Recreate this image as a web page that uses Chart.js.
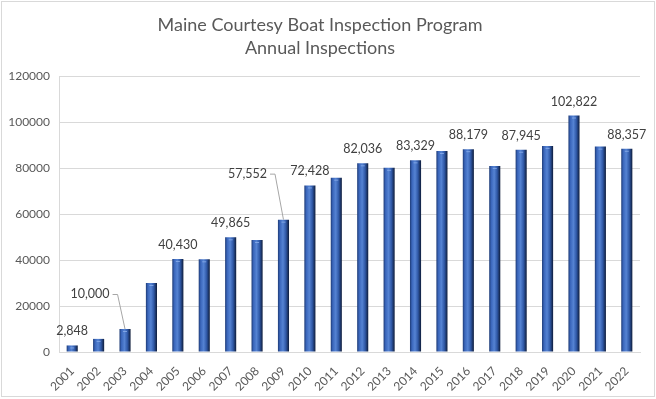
<!DOCTYPE html>
<html>
<head>
<meta charset="utf-8">
<script src="https://cdn.jsdelivr.net/npm/chart.js@4.4.1/dist/chart.umd.min.js"></script>
<style>
  html, body { margin: 0; padding: 0; background: #fff; }
  #wrap { width: 656px; height: 399px; position: relative; }
</style>
</head>
<body>
<div id="wrap"><canvas id="boatChart"></canvas></div>
<script>
// chart data
const years = ['2001', '2002', '2003', '2004', '2005', '2006', '2007', '2008', '2009', '2010', '2011',
               '2012', '2013', '2014', '2015', '2016', '2017', '2018', '2019', '2020', '2021', '2022'];
const inspections = [2848, 5700, 10000, 30000, 40430, 40300, 49865, 48700, 57552, 72428, 75800,
                     82036, 80100, 83329, 87400, 88179, 80900, 87945, 89600, 102822, 89300, 88357];
// which bars carry a value label (null = no label)
const shownLabels = ['2,848', null, '10,000', null, '40,430', null, '49,865', null, '57,552', '72,428', null,
                     '82,036', null, '83,329', null, '88,179', null, '87,945', null, '102,822', null, '88,357'];
const yTicks = [0, 20000, 40000, 60000, 80000, 100000, 120000];

const FONT = 'Lato, "Open Sans", sans-serif';
const GREY = '#595959';
const BAR_PCT = 0.42;

// horizontal shading so each bar looks like a rounded column
function barShade(ctx) {
    const chart = ctx.chart;
    const area = chart.chartArea;
    if (!area || ctx.dataIndex === undefined) return '#3e6bbf';
    const x = chart.scales.x.getPixelForValue(ctx.dataIndex);
    const w = (area.right - area.left) / years.length * BAR_PCT;
    const g = chart.ctx.createLinearGradient(x - w / 2, 0, x + w / 2, 0);
    g.addColorStop(0, '#1d3a75');
    g.addColorStop(0.18, '#3a66bb');
    g.addColorStop(0.45, '#5583d3');
    g.addColorStop(0.72, '#2f58a6');
    g.addColorStop(1, '#0e1c3a');
    return g;
}

// value labels, two of them pushed off to the side with a leader line
const calloutShift = { 2: [-35, -35], 8: [-36, -46] };
const valueLabels = {
    id: 'valueLabels',
    afterDatasetsDraw(chart) {
        const c = chart.ctx;
        const meta = chart.getDatasetMeta(0);
        c.save();
        // small highlight at the top of each bar
        meta.data.forEach(function (bar) {
            c.fillStyle = 'rgba(140,175,235,0.8)';
            c.fillRect(bar.x - 2, bar.y + 2, 4, 1);
        });
        c.font = '12.5px ' + FONT;
        c.fillStyle = '#404040';
        c.textAlign = 'center';
        c.textBaseline = 'middle';
        meta.data.forEach(function (bar, i) {
            const txt = shownLabels[i];
            if (!txt) return;
            const shift = calloutShift[i];
            if (shift) {
                const lx = bar.x + shift[0];
                const ly = bar.y + shift[1];
                const tw = c.measureText(txt).width;
                c.fillText(txt, lx, ly);
                c.strokeStyle = '#a6a6a6';
                c.lineWidth = 1;
                c.beginPath();
                c.moveTo(lx + tw / 2 + 3, ly + 0.5);
                c.lineTo(lx + tw / 2 + 8, ly + 0.5);
                c.lineTo(bar.x, bar.y);
                c.stroke();
            } else {
                c.fillText(txt, bar.x, bar.y - 14);
            }
        });
        c.restore();
    }
};

const frame = {
    id: 'frame',
    afterDraw(chart) {
        const c = chart.ctx;
        c.save();
        c.strokeStyle = '#d9d9d9';
        c.lineWidth = 1;
        c.strokeRect(1.5, 1.5, chart.width - 3, chart.height - 4);
        c.restore();
    }
};

const ctx1 = document.getElementById('boatChart').getContext('2d');
const boatChart = new Chart(ctx1, {
    type: 'bar',
    data: {
        labels: years,
        datasets: [{
            label: 'Inspections',
            data: inspections,
            backgroundColor: barShade,
            borderWidth: 0,
            barPercentage: BAR_PCT,
            categoryPercentage: 1
        }]
    },
    options: {
        responsive: true,
        maintainAspectRatio: false,
        animation: false,
        layout: { padding: { left: 0, right: 16, top: 0, bottom: 0 } },
        plugins: {
            legend: { display: false },
            tooltip: { enabled: false },
            title: {
                display: true,
                text: ['Maine Courtesy Boat Inspection Program', 'Annual Inspections'],
                color: GREY,
                font: { family: FONT, size: 18, weight: 'normal', lineHeight: 1.25 },
                padding: { top: 14, bottom: 17 }
            }
        },
        scales: {
            x: {
                grid: { display: false },
                border: { display: true, color: '#d9d9d9' },
                ticks: {
                    color: GREY,
                    font: { family: FONT, size: 12 },
                    minRotation: 45,
                    maxRotation: 45,
                    padding: 4
                },
                afterFit(scale) { scale.height = 47; }
            },
            y: {
                min: 0,
                max: 120000,
                afterBuildTicks(scale) { scale.ticks = yTicks.map(v => ({ value: v })); },
                grid: { color: '#d9d9d9', drawTicks: false },
                border: { display: true, color: '#d9d9d9' },
                ticks: {
                    color: GREY,
                    font: { family: FONT, size: 12 },
                    padding: 9,
                    callback: v => String(v)
                },
                afterFit(scale) { scale.width = 59; }
            }
        }
    },
    plugins: [valueLabels, frame]
});
</script>
</body>
</html>
